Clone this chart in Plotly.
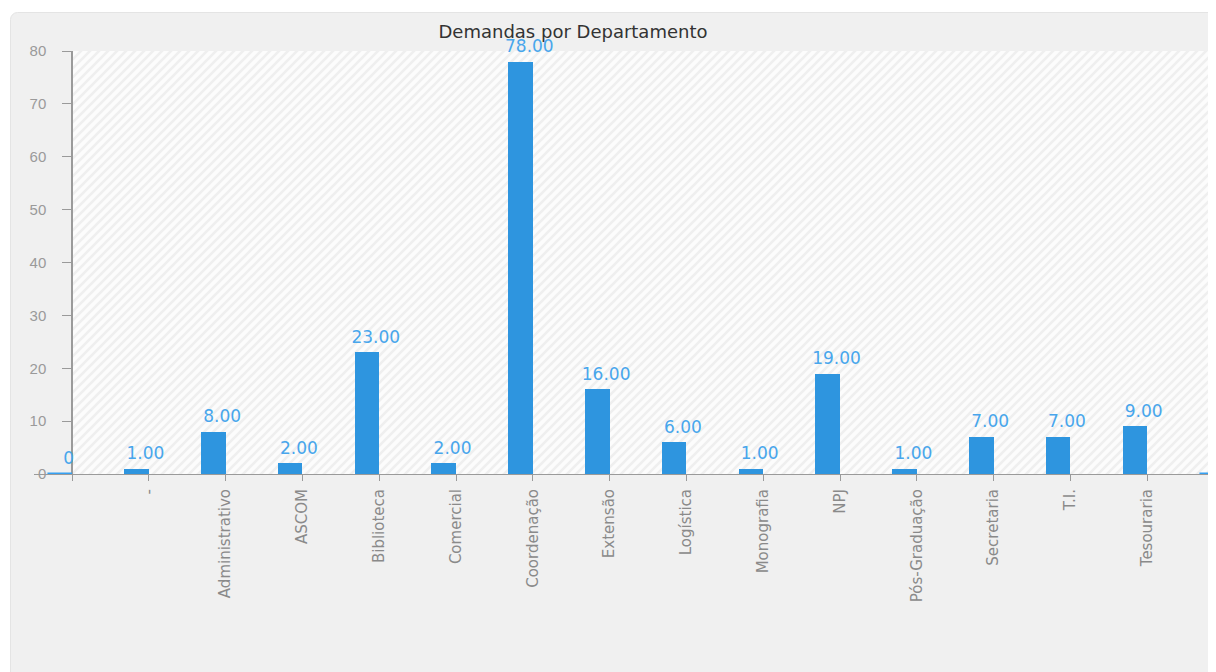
import base64
import plotly.graph_objects as go

# ---- data ----
categories = ["", "-", "Administrativo", "ASCOM", "Biblioteca", "Comercial", "Coordenação",
              "Extensão", "Logística", "Monografia", "NPJ", "Pós-Graduação", "Secretaria",
              "T.I.", "Tesouraria", ""]
values = [0, 1, 8, 2, 23, 2, 78, 16, 6, 1, 19, 1, 7, 7, 9, 0]
y_ticks = [0, 10, 20, 30, 40, 50, 60, 70, 80]
title_text = "Demandas por Departamento"

BAR = "#2e95df"
LABEL = "#48a6ec"
W, H = 1208, 664          # page has an 8px body margin
L, T, B = 26, 43, 198
PW, PH = W - L, H - T - B
X0PX = 64                  # pixel (figure coords) of the first category / y axis
UNIT = 76.8                # pixels per category
XMIN = -(X0PX - L) / UNIT
XMAX = XMIN + PW / UNIT

xpos = list(range(len(categories)))
labels = ["0" if v == 0 else f"{v:.2f}" for v in values]

def svg_uri(svg):
    return "data:image/svg+xml;base64," + base64.b64encode(svg.encode()).decode()

panel_w, panel_h = 1300, 760
panel_svg = (f'<svg xmlns="http://www.w3.org/2000/svg" width="{panel_w}" height="{panel_h}" '
             f'viewBox="0 0 {panel_w} {panel_h}">'
             f'<rect x="0.5" y="0.5" width="{panel_w}" height="{panel_h}" rx="7" ry="7" '
             f'fill="#f0f0f0" stroke="#e4e4e4" stroke-width="1"/></svg>')
HW, HH = 1200, 423
hatch_svg = (f'<svg xmlns="http://www.w3.org/2000/svg" width="{HW}" height="{HH}" viewBox="0 0 {HW} {HH}">'
             '<defs><pattern id="h" patternUnits="userSpaceOnUse" width="9" height="9">'
             '<rect width="9" height="9" fill="#fcfcfc"/>'
             '<path d="M-1,10 L10,-1 M-3,3 L3,-3 M6,12 L12,6" stroke="#efefef" stroke-width="2.6"/>'
             '</pattern></defs>'
             f'<rect width="{HW}" height="{HH}" fill="url(#h)"/></svg>')

def px_to_paper_x(px):
    return (px - L) / PW

def px_to_paper_y(py):
    return 1 - (py - T) / PH

fig = go.Figure()

nonzero = [i for i, v in enumerate(values) if v != 0]
fig.add_trace(go.Bar(
    x=[xpos[i] for i in nonzero], y=[values[i] for i in nonzero],
    offset=-0.32, width=0.32, marker=dict(color=BAR, line=dict(width=0)),
    hoverinfo="skip", showlegend=False,
))

# zero-valued bars drawn as flat lines
for i, v in enumerate(values):
    if v == 0:
        fig.add_trace(go.Scatter(
            x=[xpos[i] - 0.32, xpos[i]], y=[v, v], mode="lines",
            line=dict(color="#35a0f2", width=3), showlegend=False, hoverinfo="skip",
            cliponaxis=False,
        ))

fig.add_trace(go.Scatter(
    x=[p - 0.045 for p in xpos], y=values, mode="markers+text", text=labels,
    marker=dict(size=7, color="rgba(0,0,0,0)"),
    textposition="top center", textfont=dict(family="DejaVu Sans", size=17, color=LABEL),
    showlegend=False, hoverinfo="skip", cliponaxis=False,
))

fig.update_layout(
    width=W, height=H,
    margin=dict(l=L, r=0, t=T, b=B, pad=0),
    paper_bgcolor="white", plot_bgcolor="rgba(0,0,0,0)",
    title=dict(text=title_text, x=565 / W, xref="container", xanchor="center",
               y=1 - 24 / H, yref="container", yanchor="middle",
               font=dict(family="DejaVu Sans", size=18, color="#333333")),
    font=dict(family="DejaVu Sans"),
    images=[
        dict(source=svg_uri(panel_svg), xref="paper", yref="paper",
             x=px_to_paper_x(2), y=px_to_paper_y(4),
             sizex=panel_w / PW, sizey=panel_h / PH, sizing="stretch",
             xanchor="left", yanchor="top", layer="below"),
        dict(source=svg_uri(hatch_svg), xref="x", yref="y",
             x=0, y=80, sizex=HW / UNIT, sizey=80, sizing="stretch",
             xanchor="left", yanchor="top", layer="below"),
    ],
    xaxis=dict(
        range=[XMIN, XMAX], tickvals=xpos, ticktext=categories,
        tickangle=-90, ticks="outside", ticklen=6, tickcolor="#9a9a9a",
        showline=True, linecolor="#9a9a9a", linewidth=1, showgrid=False,
        zeroline=False, tickfont=dict(family="DejaVu Sans", size=15, color="#8a8a8a"),
        ticklabelstandoff=2, layer="below traces",
    ),
    yaxis=dict(
        range=[0, 80], tickvals=y_ticks, ticks="outside", ticklen=9,
        tickcolor="#9a9a9a", showline=True, linecolor="#9a9a9a", linewidth=1.5,
        showgrid=False, zeroline=False, anchor="free",
        position=(0 - XMIN) / (XMAX - XMIN),
        tickfont=dict(family="Liberation Sans", size=15, color="#9a9a9a"),
        ticklabelstandoff=13, layer="below traces",
    ),
    bargap=0,
)

fig.write_html("out.html")
